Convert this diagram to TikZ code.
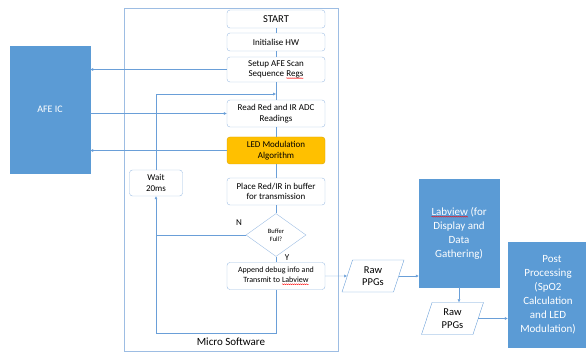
\documentclass[tikz,border=0pt]{standalone}
\usepackage{fontspec}
\setmainfont{Carlito}
\usepackage{xcolor}
\usepackage{tikz}
\usetikzlibrary{arrows.meta, positioning, shapes.geometric, decorations.pathmorphing}

\definecolor{linecol}{HTML}{6A9FD8}
\definecolor{edgecol}{HTML}{9DBDE3}
\definecolor{bluefill}{HTML}{5B9BD5}
\definecolor{ledfill}{HTML}{FFC000}

% red wavy underline for the spell-checked words
\newcommand{\spellerr}[1]{\tikz[baseline=(w.base), x=1pt, y=1pt, sharp corners]{%
    \node[rectangle, inner sep=0pt, outer sep=0pt, draw=none, fill=none, minimum size=0pt] (w) {#1};
    \draw[red, line width=0.35pt, sharp corners, decorate, decoration={snake, amplitude=0.45pt, segment length=2pt}]
        ([yshift=-1.6pt]w.base west) -- ([yshift=-1.6pt]w.base east);}}

\begin{document}
\begin{tikzpicture}[
    x=1pt, y=-1pt,
    box/.style={
        rectangle,
        draw=edgecol,
        rounded corners=3pt,
        align=center,
        minimum width=98pt,
        minimum height=27pt,
        inner sep=1pt,
        font=\fontsize{9}{10.5}\selectfont
    },
    bluebox/.style={
        rectangle,
        draw=bluefill,
        fill=bluefill,
        text=white,
        align=center,
        inner sep=1pt,
        font=\fontsize{11}{14}\selectfont
    },
    decision/.style={
        diamond,
        draw=edgecol,
        aspect=1.4,
        minimum width=60pt,
        minimum height=43pt,
        inner sep=0pt,
        align=center,
        font=\fontsize{6.5}{8}\selectfont
    },
    ppg/.style={
        trapezium,
        trapezium left angle=74,
        trapezium right angle=106,
        trapezium stretches=true,
        draw=linecol,
        minimum width=62pt,
        minimum height=32pt,
        inner sep=0pt,
        align=center,
        font=\fontsize{10.5}{12.5}\selectfont
    },
    arrow/.style={-{Latex[length=3pt, width=3pt]}, linecol, thin},
    flow/.style={linecol, thin}
]
\useasboundingbox (0,0) rectangle (586,352);

% Micro software frame
\node[draw=edgecol, minimum width=214pt, minimum height=343pt, inner sep=0pt] (micro) at (231,179.5) {};
\node[font=\fontsize{11}{13}\selectfont] (microlbl) at (231,342) {Micro Software};

% AFE side
\node[bluebox, minimum width=80pt, minimum height=127pt, font=\fontsize{10}{12}\selectfont] (afe) at (50,109.5) {AFE IC};

% main column
\node[box, minimum height=18pt, font=\fontsize{10.5}{12}\selectfont] (start) at (276,19) {START};
\node[box, minimum height=18pt] (init) at (276,42) {Initialise HW};
\node[box, minimum height=25pt] (setup) at (276,69.5) {Setup AFE Scan\\Sequence \spellerr{Regs}};
\node[box] (read) at (276,113.5) {Read Red and IR ADC\\Readings};
\node[box, fill=ledfill, draw=ledfill!85!black] (led) at (276,150.5) {LED Modulation\\Algorithm};
\node[box] (place) at (276,191.5) {Place Red/IR in buffer\\for transmission};
\node[decision] (buf) at (276,235) {Buffer\\Full?};
\node[box, font=\fontsize{8}{10}\selectfont] (append) at (276,276) {Append debug info and\\Transmit to \spellerr{Labview}};
\node[box, minimum width=53pt, minimum height=26pt] (wait) at (156,183) {Wait\\20ms};

\draw[flow] (start) -- (init);
\draw[flow] (init) -- (setup);
\draw[flow] (setup) -- (read);
\draw[flow] (read) -- (led);
\draw[flow] (led) -- (place);
\draw[flow] (place) -- (buf);
\draw[flow] (buf) -- (append);

\node[font=\fontsize{9}{10}\selectfont] (nlbl) at (239,223) {N};
\node[font=\fontsize{9}{10}\selectfont] (ylbl) at (287,258) {Y};

% links to the AFE
\draw[arrow] (setup.west) -- (setup.west -| afe.east);
\draw[arrow] (afe.east |- read.west) -- (read.west);
\draw[arrow] (led.west) -- (led.west -| afe.east);

% wait loop
\coordinate (loopbot) at (156,333);
\coordinate (rejoin) at (276,94);
\draw[arrow] (append.south) |- (wait.south |- loopbot) -- (wait.south);
\draw[flow] (buf.west) -- (buf.west -| wait.south);
\draw[arrow] (wait.north) |- (rejoin);

% Labview side
\node[ppg] (raw1) at (373,276) {Raw\\PPGs};
\node[bluebox, minimum width=80pt, minimum height=108pt] (lab) at (459,233) {\spellerr{Labview} (for\\Display and\\Data\\Gathering)};
\node[ppg] (raw2) at (452.5,318.5) {Raw\\PPGs};
\node[bluebox, minimum width=80pt, minimum height=105pt] (post) at (548,294.5) {\hspace{8pt}Post\\Processing\\(SpO2\\Calculation\\and LED\\Modulation)};

\draw[arrow] (append.east) -- (raw1.west);
\draw[arrow] (raw1.east) -- (raw1.east -| lab.west);
\draw[arrow] (lab.south) -- (lab.south |- raw2.north);
\draw[arrow] (raw2.east) -- (raw2.east -| post.west);

\end{tikzpicture}
\end{document}
